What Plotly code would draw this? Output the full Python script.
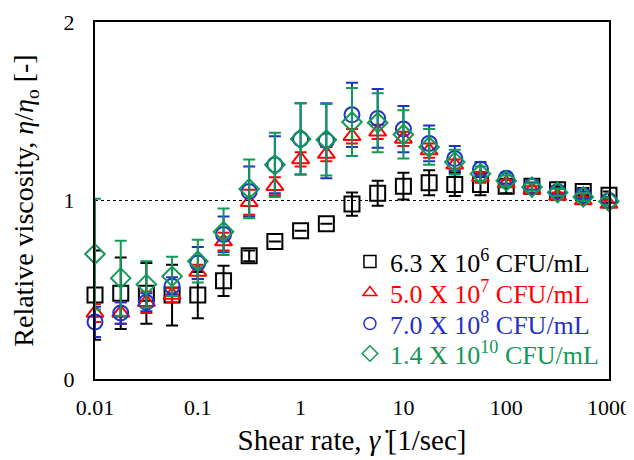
import plotly.graph_objects as go

shear = [0.01, 0.0178, 0.0316, 0.0562, 0.1, 0.178, 0.316, 0.562, 1, 1.78, 3.16,
         5.62, 10, 17.8, 31.6, 56.2, 100, 178, 316, 562, 1000]

black = [0.47, 0.48, 0.48, 0.47, 0.47, 0.55, 0.69, 0.77, 0.83, 0.87, 0.98, 1.04,
         1.08, 1.10, 1.09, 1.09, 1.08, 1.08, 1.06, 1.05, 1.03]
black_err = [0.25, 0.2, 0.17, 0.17, 0.13, 0.085, 0.03, 0.0, 0.0, 0.0, 0.065, 0.07,
             0.075, 0.07, 0.065, 0.06, 0.04, 0.02, 0.02, 0.02, 0.02]

red = [0.37, 0.37, 0.43, 0.47, 0.60, 0.77, 0.99, 1.08, 1.23, 1.26, 1.36, 1.385,
       1.345, 1.28, 1.20, 1.13, 1.095, 1.06, 1.025, 1.00, 0.98]
red_err = [0.05, 0.06, 0.06, 0.04, 0.04, 0.05, 0.07, 0.05, 0.04, 0.04, 0.04, 0.04,
           0.04, 0.04, 0.03, 0.03, 0.02, 0.02, 0.02, 0.02, 0.02]

blue = [0.32, 0.37, 0.43, 0.52, 0.65, 0.81, 1.05, 1.20, 1.345, 1.335, 1.48, 1.46,
        1.40, 1.32, 1.235, 1.175, 1.125, 1.08, 1.05, 1.03, 1.00]
blue_err = [0.085, 0.06, 0.05, 0.05, 0.09, 0.10, 0.14, 0.16, 0.2, 0.21, 0.18, 0.165,
            0.13, 0.1, 0.07, 0.04, 0.03, 0.02, 0.02, 0.02, 0.02]

green = [0.70, 0.565, 0.53, 0.575, 0.66, 0.825, 1.065, 1.20, 1.345, 1.34, 1.44, 1.436,
         1.37, 1.30, 1.215, 1.15, 1.11, 1.075, 1.045, 1.02, 0.995]
green_err = [0.31, 0.21, 0.13, 0.11, 0.12, 0.13, 0.165, 0.18, 0.2, 0.2, 0.19, 0.165,
             0.135, 0.1, 0.07, 0.04, 0.03, 0.02, 0.02, 0.02, 0.02]

names = ["6.3 X 10<sup>6</sup> CFU/mL", "5.0 X 10<sup>7</sup> CFU/mL",
         "7.0 X 10<sup>8</sup> CFU/mL", "1.4 X 10<sup>10</sup> CFU/mL"]
colors = ["#000000", "#ff0000", "#1f32c8", "#109a55"]
symbols = ["square-open", "triangle-up-open", "circle-open", "diamond-open"]
sizes = [15, 15, 15, 15]
series = [(black, black_err), (red, red_err), (blue, blue_err), (green, green_err)]
legend_ids = ["legend", "legend2", "legend3", "legend4"]
legend_y = [0.395, 0.308, 0.221, 0.137]

FONT = "Liberation Serif, Times New Roman, serif"

fig = go.Figure()
for i, (vals, err) in enumerate(series):
    fig.add_trace(go.Scatter(
        x=shear, y=vals, mode="markers", showlegend=False, cliponaxis=False,
        marker=dict(symbol=symbols[i], size=sizes[i], color=colors[i],
                    line=dict(width=2, color=colors[i])),
        error_y=dict(type="data", array=err, symmetric=True, color=colors[i],
                     thickness=2, width=6),
    ))
for i in range(4):
    fig.add_trace(go.Scatter(
        x=[None], y=[None], mode="markers", legend=legend_ids[i],
        name=f'<span style="color:{colors[i]}">{names[i]}</span>',
        marker=dict(symbol=symbols[i], size=12, color=colors[i],
                    line=dict(width=1.5, color=colors[i])),
    ))

fig.add_shape(type="line", xref="paper", yref="y", x0=0, x1=1, y0=1, y1=1,
              line=dict(color="black", width=1, dash="dot"), layer="below")

legend_common = dict(x=0.496, xanchor="left", yanchor="top",
                     bgcolor="rgba(0,0,0,0)", font=dict(family=FONT, size=26),
                     itemwidth=30)
layout_legends = {}
for i, lid in enumerate(legend_ids):
    layout_legends[lid] = dict(legend_common, y=legend_y[i])

fig.update_layout(
    width=634, height=460,
    margin=dict(l=87, r=33, t=14, b=89),
    paper_bgcolor="white", plot_bgcolor="white",
    font=dict(family=FONT, size=22, color="black"),
    **layout_legends,
    xaxis=dict(type="log", range=[-2, 3], showgrid=False, zeroline=False,
               showline=True, linecolor="black", linewidth=2, mirror=True,
               automargin=False,
               ticks="", tickvals=[0.01, 0.1, 1, 10, 100, 1000],
               ticktext=["0.01", "0.1", "1", "10", "100", "1000"],
               tickfont=dict(size=22), ticklabelstandoff=8,
               title=dict(text="Shear rate, <i>γ̇</i> [1/sec]", font=dict(size=29),
                          standoff=10)),
    yaxis=dict(range=[0, 2], showgrid=False, zeroline=False,
               showline=True, linecolor="black", linewidth=2, mirror=True,
               automargin=False,
               ticks="", tickvals=[0, 1, 2], ticktext=["0", "1", "2"],
               tickfont=dict(size=22), ticklabelstandoff=14,
               title=dict(text="Relative viscosity, <i>η</i>/<i>η</i><sub>o</sub> [-]",
                          font=dict(size=28), standoff=22)),
)

fig.write_html("out.html")
